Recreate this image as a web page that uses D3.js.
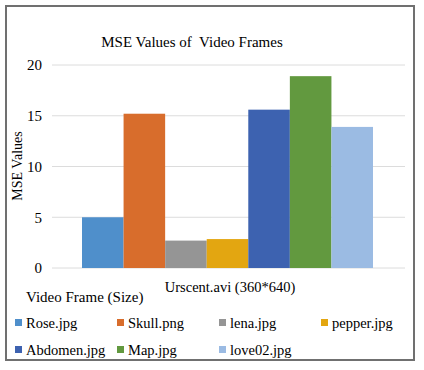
<!DOCTYPE html>
<html>
<head>
<meta charset="utf-8">
<script src="https://cdn.jsdelivr.net/npm/d3@7"></script>
<style>
  body { margin: 0; background: #fff; }
</style>
</head>
<body>
<div id="chart"></div>
<script>
// data
const category = "Urscent.avi (360*640)";
const series = ["Rose.jpg", "Skull.png", "lena.jpg", "pepper.jpg", "Abdomen.jpg", "Map.jpg", "love02.jpg"];
const values = [5.0, 15.2, 2.7, 2.85, 15.6, 18.9, 13.9];
const colors = ["#4f8fcb", "#d86d2c", "#959595", "#e3a611", "#3d62b0", "#62993f", "#9bbbe3"];
const yTicks = [0, 5, 10, 15, 20];

const W = 424, H = 370;
const FONT = "'Liberation Serif'";

const svg = d3.select("#chart").append("svg")
    .attr("width", W)
    .attr("height", H);

// frame
svg.append("rect")
    .attr("x", 6).attr("y", 6)
    .attr("width", 408).attr("height", 354)
    .attr("fill", "#fff")
    .attr("stroke", "#707070")
    .attr("stroke-width", 2);

const plot = { left: 52, right: 405, top: 65, bottom: 268 };

const y = d3.scaleLinear()
    .domain([0, 20])
    .range([plot.bottom, plot.top]);

const x = d3.scaleBand()
    .domain(series)
    .range([82, 373])
    .padding(0);

// gridlines
svg.append("g")
    .selectAll("line")
    .data(yTicks)
    .enter()
    .append("line")
    .attr("x1", plot.left)
    .attr("x2", plot.right)
    .attr("y1", d => y(d))
    .attr("y2", d => y(d))
    .attr("stroke", "#dcdcdc")
    .attr("stroke-width", 1);

// y tick labels
svg.append("g")
    .selectAll("text")
    .data(yTicks)
    .enter()
    .append("text")
    .attr("x", 42)
    .attr("y", d => y(d))
    .attr("dy", "0.35em")
    .attr("text-anchor", "end")
    .attr("font-size", 15)
    .text(d => d);

// bars
svg.append("g")
    .selectAll("rect")
    .data(values)
    .enter()
    .append("rect")
    .attr("x", (d, i) => x(series[i]))
    .attr("y", d => y(d))
    .attr("width", x.bandwidth())
    .attr("height", d => y(0) - y(d))
    .attr("fill", (d, i) => colors[i]);

// title
svg.append("text")
    .attr("x", 192)
    .attr("y", 47)
    .attr("text-anchor", "middle")
    .attr("font-size", 15)
    .style("white-space", "pre")
    .text("MSE Values of  Video Frames");

// y axis title
svg.append("text")
    .attr("transform", "rotate(-90)")
    .attr("x", -166)
    .attr("y", 22)
    .attr("text-anchor", "middle")
    .attr("font-size", 14)
    .text("MSE Values");

// category label + axis title
svg.append("text")
    .attr("x", 230)
    .attr("y", 292)
    .attr("text-anchor", "middle")
    .attr("font-size", 14.5)
    .text(category);

svg.append("text")
    .attr("x", 26)
    .attr("y", 302)
    .attr("font-size", 15)
    .text("Video Frame (Size)");

// legend
const legend = svg.append("g")
    .selectAll("g")
    .data(series)
    .enter()
    .append("g")
    .attr("transform", (d, i) => `translate(${15 + (i % 4) * 102},${i < 4 ? 323 : 350})`);

legend.append("rect")
    .attr("x", 0)
    .attr("y", -4)
    .attr("width", 7)
    .attr("height", 7)
    .attr("fill", (d, i) => colors[i]);

legend.append("text")
    .attr("x", 11)
    .attr("y", 0)
    .attr("dy", "0.35em")
    .attr("font-size", 14.5)
    .text(d => d);

// serif everywhere, set as style so it wins
svg.selectAll("text")
    .style("font-family", FONT)
    .style("fill", "#000");
</script>
</body>
</html>
